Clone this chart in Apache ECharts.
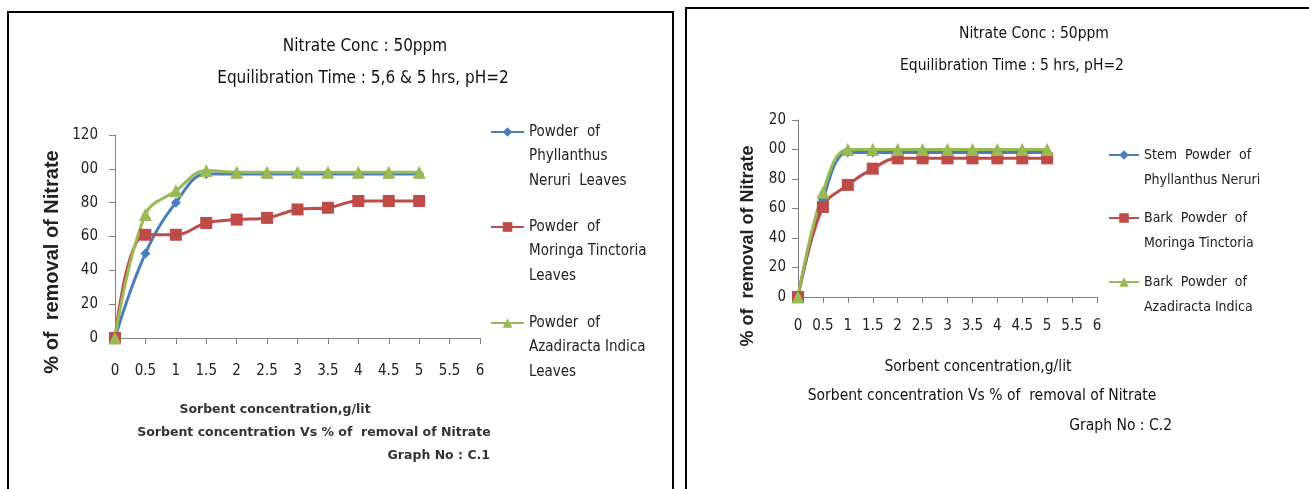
<!DOCTYPE html>
<html>
<head>
<meta charset="utf-8">
<script src="https://cdn.jsdelivr.net/npm/echarts@6/dist/echarts.min.js"></script>
<style>
  body{margin:0;background:#fff;}
  #chart{position:absolute;left:0;top:0;width:1309px;height:489px;}
  .frame{position:absolute;border:2px solid #000;}
</style>
</head>
<body>
<div class="frame" style="left:7px;top:11px;width:663px;height:490px;"></div>
<div class="frame" style="left:685px;top:7px;width:640px;height:495px;"></div>
<div id="chart"></div>
<script>
// sorbent concentration, g/lit
const xValues = [0, 0.5, 1, 1.5, 2, 2.5, 3, 3.5, 4, 4.5, 5]

// Graph C.1 (leaves)
const leafNames = ['Powder  of\nPhyllanthus\nNeruri  Leaves', 'Powder  of\nMoringa Tinctoria\nLeaves', 'Powder  of\nAzadiracta Indica\nLeaves']
const leafPhyllanthus = [0, 50, 80, 97, 97, 97, 97, 97, 97, 97, 97]
const leafMoringa = [0, 61, 61, 68, 70, 71, 76, 77, 81, 81, 81]
const leafAzadiracta = [0, 73, 87, 99, 98, 98, 98, 98, 98, 98, 98]
const leftYLabels = ['0', '20', '40', '60', '80', '00', '120']

// Graph C.2 (stem / bark)
const barkNames = ['Stem  Powder  of\nPhyllanthus Neruri', 'Bark  Powder  of\nMoringa Tinctoria', 'Bark  Powder  of\nAzadiracta Indica']
const stemPhyllanthus = [0, 66, 98, 98, 98, 98, 98, 98, 98, 98, 98]
const barkMoringa = [0, 61, 76, 87, 94, 94, 94, 94, 94, 94, 94]
const barkAzadiracta = [0, 71, 100, 100, 100, 100, 100, 100, 100, 100, 100]
const rightYLabels = ['0', '20', '40', '60', '80', '00', '20']

const colors = ['#4a7ebb', '#be4b48', '#98b954']
const symbols = ['diamond', 'rect', 'triangle']
const symbolSizes = [10, 12, 13]
const narrow = '"Liberation Sans Narrow", "DejaVu Sans Condensed", sans-serif'

let myChart = echarts.init(document.getElementById('chart'))

function pairs(arr){
  return arr.map((v, i) => [xValues[i], v])
}

function makeSeries(name, data, k, gi){
  return {
    name: name,
    type: 'line',
    xAxisIndex: gi,
    yAxisIndex: gi,
    smooth: 0.4,
    symbol: symbols[k],
    symbolSize: symbolSizes[k],
    data: pairs(data),
    itemStyle: {color: colors[k]},
    lineStyle: {width: 3, color: colors[k]}
  }
}

function xAxisCfg(gi, margin){
  return {
    type: 'value', gridIndex: gi, min: 0, max: 6, interval: 0.5,
    axisLine: {lineStyle: {color: '#808080'}},
    axisTick: {inside: false, length: 6, lineStyle: {color: '#808080'}},
    axisLabel: {color: '#222', fontFamily: narrow, fontSize: 15, margin: margin},
    splitLine: {show: false}
  }
}

function yAxisCfg(gi, labels, margin){
  return {
    type: 'value', gridIndex: gi, min: 0, max: 120, interval: 20,
    axisLine: {show: true, lineStyle: {color: '#808080'}},
    axisTick: {show: true, length: 6, lineStyle: {color: '#808080'}},
    axisLabel: {color: '#222', fontFamily: narrow, fontSize: 15, margin: margin,
      formatter: v => labels[Math.round(v / 20)]},
    splitLine: {show: false}
  }
}

// the marker sits on the first line of the name, so pad the text with empty lines above
function legendCfg(name, left, iconY, lines, lh, size, w){
  let pad = ''
  for(let i = 1; i < lines; i++) pad += '\n'
  return {
    data: [name], left: left, top: iconY - (2 * lines - 1) * lh / 2, padding: 0,
    itemWidth: w, itemHeight: 12, selectedMode: false,
    formatter: n => pad + n,
    textStyle: {fontFamily: narrow, fontSize: size, color: '#222', lineHeight: lh}
  }
}

function txt(text, x, y, size, opts){
  opts = opts || {}
  return {
    type: 'text', x: x, y: y, rotation: opts.rot || 0, silent: true,
    style: {
      text: text, fill: opts.color || '#111',
      font: (opts.bold ? 'bold ' : '') + size + 'px ' + (opts.family || narrow),
      align: opts.align || 'center', verticalAlign: 'middle'
    }
  }
}

let option = {
  animation: false,
  grid: [
    {left: 115, top: 135, width: 365, height: 203},
    {left: 798, top: 120, width: 299, height: 177}
  ],
  xAxis: [xAxisCfg(0, 26), xAxisCfg(1, 22)],
  yAxis: [yAxisCfg(0, leftYLabels, 17), yAxisCfg(1, rightYLabels, 12)],
  legend: [
    legendCfg(leafNames[0], 490, 132, 3, 24.5, 15, 33),
    legendCfg(leafNames[1], 490, 227, 3, 24.5, 15, 33),
    legendCfg(leafNames[2], 490, 323, 3, 24.5, 15, 33),
    legendCfg(barkNames[0], 1108, 155, 2, 25.5, 14, 30),
    legendCfg(barkNames[1], 1108, 218, 2, 25.5, 14, 30),
    legendCfg(barkNames[2], 1108, 282, 2, 25.5, 14, 30)
  ],
  series: [
    makeSeries(leafNames[0], leafPhyllanthus, 0, 0),
    makeSeries(leafNames[1], leafMoringa, 1, 0),
    makeSeries(leafNames[2], leafAzadiracta, 2, 0),
    makeSeries(barkNames[0], stemPhyllanthus, 0, 1),
    makeSeries(barkNames[1], barkMoringa, 1, 1),
    makeSeries(barkNames[2], barkAzadiracta, 2, 1)
  ],
  graphic: [
    // graph C.1 texts
    txt('Nitrate Conc : 50ppm', 365, 47, 17),
    txt('Equilibration Time : 5,6 & 5 hrs, pH=2', 363, 79, 17),
    txt('% of  removal of Nitrate', 52, 262, 20, {rot: Math.PI / 2, bold: true, family: '"Liberation Sans", Arial, sans-serif', color: '#222'}),
    txt('Sorbent concentration,g/lit', 275, 410, 12.5, {bold: true, family: '"DejaVu Sans", sans-serif', color: '#333'}),
    txt('Sorbent concentration Vs % of  removal of Nitrate', 314, 433, 12.5, {bold: true, family: '"DejaVu Sans", sans-serif', color: '#333'}),
    txt('Graph No : C.1', 490, 456, 12.5, {bold: true, family: '"DejaVu Sans", sans-serif', color: '#333', align: 'right'}),
    // graph C.2 texts
    txt('Nitrate Conc : 50ppm', 1034, 34, 15.5),
    txt('Equilibration Time : 5 hrs, pH=2', 1012, 66, 15.5),
    txt('% of  removal of Nitrate', 748, 246, 18, {rot: Math.PI / 2, bold: true, family: '"Liberation Sans", Arial, sans-serif', color: '#222'}),
    txt('Sorbent concentration,g/lit', 978, 367, 15.5),
    txt('Sorbent concentration Vs % of  removal of Nitrate', 982, 396, 15.5),
    txt('Graph No : C.2', 1172, 426, 15.5, {align: 'right'})
  ]
}

myChart.setOption(option)
</script>
</body>
</html>
